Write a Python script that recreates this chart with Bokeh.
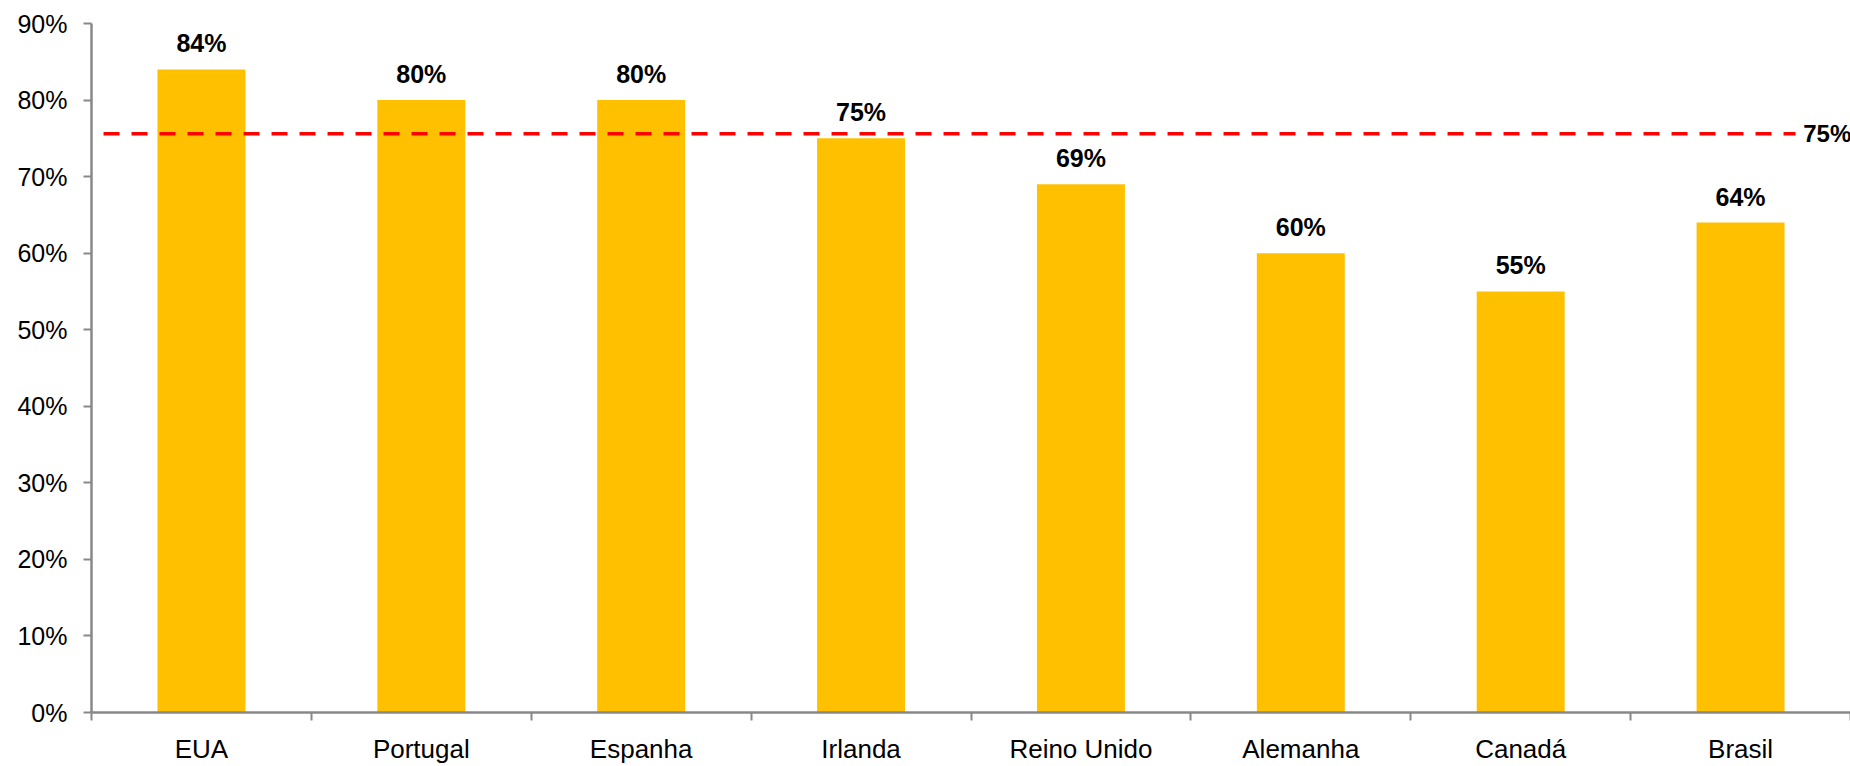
from bokeh.plotting import figure
from bokeh.models import ColumnDataSource, FixedTicker, Range1d, PrintfTickFormatter, Label
from bokeh.core.properties import value
from bokeh.embed import file_html
from bokeh.resources import INLINE

categories = ["EUA", "Portugal", "Espanha", "Irlanda", "Reino Unido", "Alemanha", "Canadá", "Brasil"]
shares = [84, 80, 80, 75, 69, 60, 55, 64]
labels = ["84%", "80%", "80%", "75%", "69%", "60%", "55%", "64%"]
average = 75.6
average_label = "75%"
y_ticks = [0, 10, 20, 30, 40, 50, 60, 70, 80, 90]

n = len(categories)
centers = [i + 0.5 for i in range(n)]
boundaries = list(range(n + 1))

FONT = "Liberation Sans"
GRAY = "#888888"

p = figure(width=1850, height=766, output_backend="svg", toolbar_location=None,
           x_range=Range1d(0, n), y_range=Range1d(0, 90),
           min_border_left=91, min_border_right=0, min_border_top=23, min_border_bottom=52)
p.outline_line_color = None
p.grid.grid_line_color = None
p.background_fill_color = "white"

src = ColumnDataSource(dict(x=centers, top=shares, label=labels))
p.vbar(x="x", top="top", width=0.4, bottom=0, source=src, fill_color="#FFC000", line_color=None)
p.text(x="x", y="top", text="label", source=src, text_align="center", text_baseline="alphabetic",
       y_offset=-26, text_font=value(FONT), text_font_size="25px", text_font_style="bold",
       text_color="#000000")

p.line(x=[-0.2, n - 0.25], y=[average, average], line_color="#FF0000", line_width=3.5,
       line_dash="16 12")
p.add_layout(Label(x=n - 0.215, y=average, text=average_label, text_font=FONT,
                   text_font_size="24px", text_font_style="bold", text_baseline="middle",
                   text_align="left", text_color="#000000"))

xa = p.xaxis[0]
xa.ticker = FixedTicker(ticks=centers, minor_ticks=boundaries)
xa.major_label_overrides = {c: cat for c, cat in zip(centers, categories)}
xa.major_tick_out = 0
xa.major_tick_in = 0
xa.minor_tick_out = 8
xa.minor_tick_in = 0
xa.minor_tick_line_color = GRAY
xa.minor_tick_line_width = 2
xa.axis_line_color = GRAY
xa.axis_line_width = 2.5
xa.major_label_standoff = 13
xa.major_label_text_font = FONT
xa.major_label_text_font_size = "26px"
xa.major_label_text_color = "#000000"

ya = p.yaxis[0]
ya.ticker = FixedTicker(ticks=y_ticks)
ya.formatter = PrintfTickFormatter(format="%d%%")
ya.major_tick_out = 8
ya.major_tick_in = 0
ya.minor_tick_line_color = None
ya.major_tick_line_color = GRAY
ya.major_tick_line_width = 2
ya.axis_line_color = GRAY
ya.axis_line_width = 2.5
ya.major_label_standoff = 16
ya.major_label_text_font = FONT
ya.major_label_text_font_size = "25px"
ya.major_label_text_color = "#000000"

open("out.html", "w").write(file_html(p, INLINE))
